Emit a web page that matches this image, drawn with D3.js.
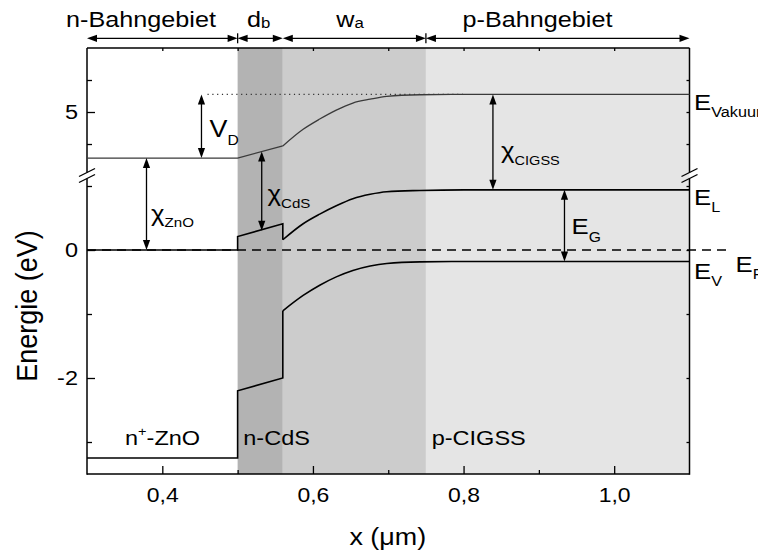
<!DOCTYPE html>
<html><head><meta charset="utf-8">
<script src="https://cdn.jsdelivr.net/npm/d3@7/dist/d3.min.js"></script>
<style>body{margin:0;background:#fff}svg{display:block}text{font-family:"Liberation Sans",Arial,sans-serif;fill:#000}</style>
</head><body><svg id="c" width="758" height="553"></svg>
<script>
// ---------- data ----------
const xDomain = [0.3, 1.1];
const yLowDomain = [-3.5, 1.15];
const yUpDomain = [4.08, 6.0];
const xMajorTicks = [0.4, 0.6, 0.8, 1.0];
const xMinorTicks = [0.5, 0.7, 0.9];
const yLowMajor = [-2, 0];
const yLowMinor = [-3, -1, 1];
const yUpMajor = [5];
const yUpMinor = [4.5, 5.5];
const regionBounds = [0.5, 0.56, 0.75, 1.1];
const regionColors = ["#b3b3b3", "#cccccc", "#e5e5e5"];
const spanBounds = [0.3, 0.5, 0.56, 0.75, 1.1];
// conduction band edge (ZnO -> CdS), eV
const condX = [0.3, 0.5, 0.5, 0.56, 0.56];
const condE = [0, 0, 0.21, 0.41, 0.16];
// valence band edge (ZnO -> CdS)
const valX = [0.3, 0.5, 0.5, 0.56, 0.56];
const valE = [-3.25, -3.25, -2.2, -2.0, -0.95];
// vacuum level (ZnO -> CdS)
const vacX = [0.3, 0.5, 0.56];
const vacE = [4.28, 4.28, 4.47];
// band bending inside CIGSS
const bendX   = [0.56, 0.587, 0.609, 0.631, 0.653, 0.676, 0.698, 0.742, 0.80, 1.10];
const bendEL  = [0.16, 0.41, 0.56, 0.69, 0.80, 0.87, 0.91, 0.93, 0.94, 0.94];
const bendEV  = [-0.95, -0.71, -0.55, -0.42, -0.32, -0.25, -0.21, -0.185, -0.18, -0.18];
const bendVac = [4.47, 4.73, 4.89, 5.03, 5.14, 5.20, 5.245, 5.27, 5.275, 5.275];
const fermiX = [0.3, 1.15];
const fermiE = [0, 0];
const dottedX = [0.46, 0.80];
const dottedE = [5.275, 5.275];

// ---------- setup ----------
const svg = d3.select("#c");
const L = 87, R = 689.5, T = 48, B = 474, YB = 175.5, SX = 1.12;
const x = d3.scaleLinear().domain(xDomain).range([L, R]);
const yLow = d3.scaleLinear().domain(yLowDomain).range([B, 176.4]);
const yUp = d3.scaleLinear().domain(yUpDomain).range([170.9, T]);
const fmt = v => d3.format(".1f")(v).replace(".", ",");

// shaded regions
svg.append("g").selectAll("rect").data(regionColors).join("rect")
  .attr("x", (d, i) => x(regionBounds[i]))
  .attr("width", (d, i) => x(regionBounds[i + 1]) - x(regionBounds[i]))
  .attr("y", T).attr("height", B - T).attr("fill", d => d);

function styleAxis(g, fs) {
  g.attr("font-size", null).attr("font-family", null);
  g.select(".domain").remove();
  g.selectAll("line").attr("stroke", "#000").attr("stroke-width", 1.3);
  g.selectAll("text").attr("font-size", fs);
}
// bottom axis
let g = svg.append("g").attr("transform", `translate(0,${B})`)
  .call(d3.axisBottom(x).tickValues(xMajorTicks).tickSize(-8).tickPadding(13).tickFormat(fmt));
styleAxis(g, 20.5); g.selectAll("text").attr("transform", `scale(${SX},1)`);
g = svg.append("g").attr("transform", `translate(0,${B})`)
  .call(d3.axisBottom(x).tickValues(xMinorTicks).tickSize(-4).tickFormat(""));
styleAxis(g, 10);
// top mirror ticks
g = svg.append("g").attr("transform", `translate(0,${T})`)
  .call(d3.axisTop(x).tickValues(xMajorTicks.concat(xMinorTicks)).tickSize(-3).tickFormat(""));
styleAxis(g, 10);
// left axes
function leftAxes(scale, major, minor) {
  let a = svg.append("g").attr("transform", `translate(${L},0)`)
    .call(d3.axisLeft(scale).tickValues(major).tickSize(-8).tickPadding(9).tickFormat(d3.format("d")));
  styleAxis(a, 21);
  a.selectAll("text").text(d => (d < 0 ? "-" : "") + Math.abs(d)).attr("transform", `scale(${SX},1)`)
    .attr("x", -9 / SX);
  a = svg.append("g").attr("transform", `translate(${L},0)`)
    .call(d3.axisLeft(scale).tickValues(minor).tickSize(-5).tickFormat(""));
  styleAxis(a, 10);
  a = svg.append("g").attr("transform", `translate(${R},0)`)
    .call(d3.axisRight(scale).tickValues(major.concat(minor)).tickSize(-3).tickFormat(""));
  styleAxis(a, 10);
}
leftAxes(yLow, yLowMajor, yLowMinor);
leftAxes(yUp, yUpMajor, yUpMinor);

// frame with axis breaks
const frame = svg.append("g").attr("stroke", "#000").attr("stroke-width", 1.5).attr("fill", "none");
frame.append("line").attr("x1", L).attr("x2", R).attr("y1", T).attr("y2", T);
frame.append("line").attr("x1", L).attr("x2", R).attr("y1", B).attr("y2", B);
[L, R].forEach(xx => {
  frame.append("line").attr("x1", xx).attr("x2", xx).attr("y1", T).attr("y2", YB - 3);
  frame.append("line").attr("x1", xx).attr("x2", xx).attr("y1", YB + 3).attr("y2", B + 0.75);
  [-3, 3].forEach(o => {
    frame.append("line").attr("x1", xx - 8).attr("y1", YB + o + 4).attr("x2", xx + 8).attr("y2", YB + o - 4)
      .attr("stroke-width", 1.3);
  });
});

// ---------- band lines ----------
const lineLow = d3.line().x(d => x(d[0])).y(d => yLow(d[1]));
const lineUp = d3.line().x(d => x(d[0])).y(d => yUp(d[1]));
const curveLow = d3.line().curve(d3.curveMonotoneX).x(d => x(d[0])).y(d => yLow(d[1]));
const curveUp = d3.line().curve(d3.curveMonotoneX).x(d => x(d[0])).y(d => yUp(d[1]));
const bands = svg.append("g").attr("fill", "none").attr("stroke-linejoin", "miter");

bands.append("path").attr("d", lineUp(d3.zip(dottedX, dottedE)))
  .attr("stroke", "#333").attr("stroke-width", 1.2).attr("stroke-dasharray", "1.2,3.6");
bands.append("path").attr("d", lineLow(d3.zip(fermiX, fermiE)))
  .attr("stroke", "#000").attr("stroke-width", 1.7).attr("stroke-dasharray", "9,6");
bands.append("path").attr("d", lineUp(d3.zip(vacX, vacE))).attr("stroke", "#3a3a3a").attr("stroke-width", 1.3);
bands.append("path").attr("d", curveUp(d3.zip(bendX, bendVac))).attr("stroke", "#3a3a3a").attr("stroke-width", 1.3);
bands.append("path").attr("d", lineLow(d3.zip(condX, condE))).attr("stroke", "#000").attr("stroke-width", 1.6);
bands.append("path").attr("d", curveLow(d3.zip(bendX, bendEL))).attr("stroke", "#000").attr("stroke-width", 1.6);
bands.append("path").attr("d", lineLow(d3.zip(valX, valE))).attr("stroke", "#000").attr("stroke-width", 1.6);
bands.append("path").attr("d", curveLow(d3.zip(bendX, bendEV))).attr("stroke", "#000").attr("stroke-width", 1.6);

// ---------- arrows ----------
const arr = svg.append("g");
function head(px, py, dx, dy) { // tip at (px,py), pointing along (dx,dy)
  const Lh = 10, Wh = 3.6, bx = px - dx * Lh, by = py - dy * Lh;
  arr.append("path").attr("d", `M${px},${py}L${bx - dy * Wh},${by + dx * Wh}L${bx + dy * Wh},${by - dx * Wh}Z`)
    .attr("fill", "#000");
}
function vArrow(px, y1, y2) {
  arr.append("line").attr("x1", px).attr("x2", px).attr("y1", y1 + 4).attr("y2", y2 - 4)
    .attr("stroke", "#000").attr("stroke-width", 1.3);
  head(px, y1, 0, -1); head(px, y2, 0, 1);
}
function hArrow(x1, x2, py) {
  arr.append("line").attr("x1", x1 + 4).attr("x2", x2 - 4).attr("y1", py).attr("y2", py)
    .attr("stroke", "#000").attr("stroke-width", 1.3);
  head(x1, py, -1, 0); head(x2, py, 1, 0);
}
const interp = (xs, es, xv) => { // value on the drawn straight CdS segment
  const t = (xv - xs[0]) / (xs[1] - xs[0]); return es[0] + t * (es[1] - es[0]);
};
vArrow(x(0.452), yUp(bendVac[9]), yUp(vacE[0]));
vArrow(x(0.379), yUp(vacE[0]), yLow(condE[0]));
vArrow(x(0.532), yUp(interp([0.5, 0.56], [vacE[1], vacE[2]], 0.532)), yLow(interp([0.5, 0.56], [condE[2], condE[3]], 0.532)) + 1);
vArrow(x(0.839), yUp(bendVac[9]), yLow(bendEL[9]));
vArrow(x(0.934), yLow(bendEL[9]), yLow(bendEV[9]));

// top span arrows
const yTop = 38.3;
for (let i = 0; i < spanBounds.length - 1; i++) hArrow(x(spanBounds[i]), x(spanBounds[i + 1]), yTop);
[0.5, 0.75].forEach(v => arr.append("line").attr("x1", x(v)).attr("x2", x(v)).attr("y1", yTop - 5).attr("y2", yTop + 5)
  .attr("stroke", "#000").attr("stroke-width", 1.3));

// ---------- text ----------
function stext(px, py, parts, anchor, sx) {
  const t = svg.append("text").attr("transform", `translate(${px},${py}) scale(${sx || SX},1)`)
    .attr("text-anchor", anchor || "start");
  parts.forEach(p => {
    const ts = t.append("tspan").attr("font-size", p[1]).text(p[0]);
    if (p[2]) ts.attr("dy", p[2]);
    if (p[3]) ts.attr("dx", p[3]);
  });
  return t;
}
// top region labels
stext(141, 26.5, [["n-Bahngebiet", 22.5]], "middle");
stext(258.7, 26.5, [["d", 22.5], ["b", 15, 1]], "middle");
stext(350, 26.5, [["w", 22.5], ["a", 15, 1]], "middle");
stext(537.5, 26.5, [["p-Bahngebiet", 22.5]], "middle");
// symbols on arrows
stext(209.5, 137, [["V", 24], ["D", 14, 8]]);
stext(151, 221, [["χ", 23], ["ZnO", 13.5, 5.5]]);
stext(267.5, 201, [["χ", 23], ["CdS", 13.5, 7]]);
stext(501, 157.5, [["χ", 23], ["CIGSS", 13, 7.5]]);
stext(571.5, 234, [["E", 23], ["G", 14, 7.5]]);
// right level names
stext(694, 110, [["E", 23], ["Vakuum", 14.5, 7]]);
stext(694, 205, [["E", 23], ["L", 14.5, 7]]);
stext(694, 279, [["E", 23], ["V", 14.5, 7]]);
stext(735.5, 272, [["E", 23], ["F", 14.5, 7]]);
// material labels
stext(125, 445, [["n", 21], ["+", 13, -9], ["-ZnO", 21, 9]]);
stext(243.3, 445, [["n-CdS", 21]]);
stext(431.7, 445, [["p-CIGSS", 21]]);
// axis titles
stext((L + R) / 2 - 0.5, 545, [["x (", 24], ["μ", 24], ["m)", 24]], "middle");
svg.append("text").attr("transform", `translate(37,306) rotate(-90) scale(1,${SX})`)
  .attr("text-anchor", "middle").attr("font-size", 27).text("Energie (eV)");
</script></body></html>
